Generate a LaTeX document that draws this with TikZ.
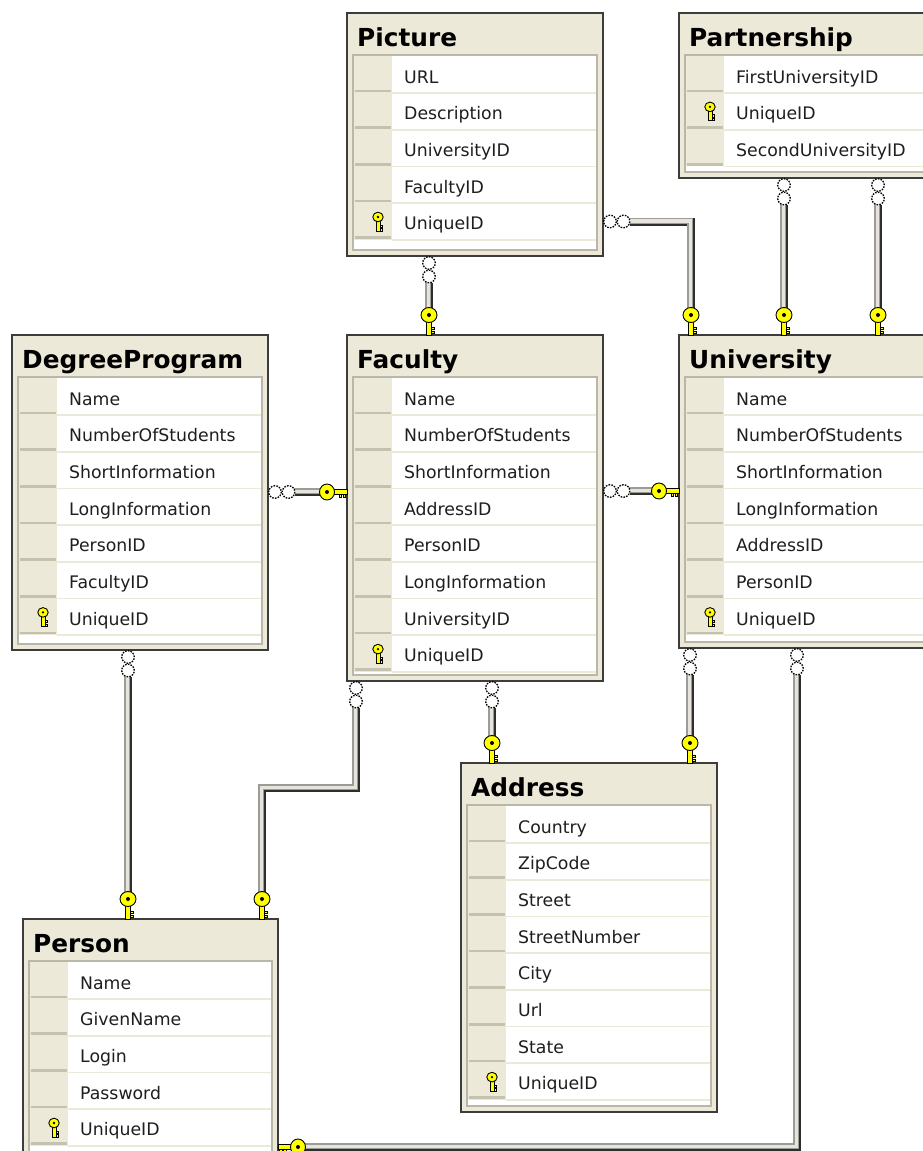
\documentclass[tikz,border=0pt]{standalone}
\usepackage{fontspec}
\setmainfont{DejaVu Sans}
\definecolor{framebg}{HTML}{ECE9D8}
\definecolor{framedark}{HTML}{3C3C3C}
\definecolor{panelline}{HTML}{BAB7A8}
\definecolor{graybar}{HTML}{C4C1AF}
\definecolor{rowline}{HTML}{ECE9D8}
\definecolor{keyyellow}{HTML}{FFFF00}
\definecolor{tubedark}{HTML}{2E2E2E}
\definecolor{tubemid}{HTML}{9C9C96}
\definecolor{tubelight}{HTML}{E6E4DC}
\definecolor{fieldcol}{HTML}{1E1E1E}
\tikzset{
  tableframe/.style={draw=framedark, fill=framebg, line width=2pt, rectangle, inner sep=0pt, outer sep=0pt},
  titletext/.style={font=\bfseries\fontsize{24.8}{28}\selectfont, inner sep=0pt, text=black},
  fieldtext/.style={font=\fontsize{17.3}{20}\selectfont, inner sep=0pt, text=fieldcol},
  panel/.style={fill=white, draw=panelline, line width=1.2pt},
  rowsep/.style={draw=rowline, line width=1.6pt},
  tubeA/.style={draw=tubedark, line width=8pt, line join=miter},
  tubeB/.style={draw=tubemid, line width=6pt, line join=miter},
  tubeC/.style={draw=tubelight, line width=3.6pt, line join=miter},
  keypart/.style={fill=keyyellow, draw=black, line width=0.9pt},
  manycirc/.style={fill=white, draw=black, line width=1.3pt, dash pattern=on 1.6pt off 1.2pt},
  many/.pic={
    \filldraw[manycirc] (0,7) circle [radius=6.3pt];
    \filldraw[manycirc] (0,20.5) circle [radius=6.3pt];
  },
  onekey/.pic={
    \filldraw[keypart] (-2.4,-14) rectangle (2.4,0);
    \filldraw[keypart] (2.4,-8) rectangle (5.5,-5.6);
    \filldraw[keypart] (2.4,-4) rectangle (5,-1.6);
    \filldraw[keypart] (0,-20) ellipse [x radius=8pt, y radius=7.5pt];
    \fill[black] (0,-20) circle [radius=2pt];
  },
  smallkey/.pic={
    \filldraw[keypart] (-2,-1) rectangle (2,9.5);
    \filldraw[keypart] (2,3.5) rectangle (4.6,5.6);
    \filldraw[keypart] (2,7.2) rectangle (4.2,9.5);
    \filldraw[keypart] (0,-4.5) ellipse [x radius=5.2pt, y radius=4.8pt];
    \fill[black] (0,-4.5) circle [radius=1.3pt];
  },
}
\newcommand{\dbtable}[7]{%
  \node[tableframe, minimum width=#4pt, minimum height={(#5-#3)*1pt}, anchor=north west] (#1) at (#2,#3) {};
  \node[titletext, anchor=base west] (#1-title) at ({#2+10},{#3+33.5}) {#6};
  \filldraw[panel] ({#2+6},{#3+42}) rectangle ({#2+#4-6},{#5-6});
  \foreach \fld/\iskey [count=\i from 0] in {#7} {
    \pgfmathsetmacro\rb{#3+43.3+(\i+1)*36.7}
    \fill[framebg] ({#2+7},{\rb-36.7}) rectangle ({#2+45},\rb);
    \fill[graybar] ({#2+8},{\rb-3.5}) rectangle ({#2+44},{\rb-0.8});
    \draw[rowsep] ({#2+45},\rb) -- ({#2+#4-7},\rb);
    \node[fieldtext, anchor=base west] (#1-f\i) at ({#2+57},{\rb-10}) {\fld};
    \ifnum\iskey=1 \pic at ({#2+31},{\rb-18.3}) {smallkey};\fi
  }
}
\newcommand{\dbtube}[1]{%
  \draw[tubeA] #1;
  \draw[tubeB, transform canvas={xshift=-1pt,yshift=1pt}] #1;
  \draw[tubeC, transform canvas={xshift=-0.6pt,yshift=0.6pt}] #1;
}
\begin{document}
\begin{tikzpicture}[x=1pt,y=-1pt]
\useasboundingbox (0,0) rectangle (923,1151);
\clip (0,0) rectangle (923,1151);
\fill[white] (0,0) rectangle (923,1151);

\dbtable{picture}{347}{13}{256}{256}{Picture}{URL/0,Description/0,UniversityID/0,FacultyID/0,UniqueID/1}
\dbtable{partnership}{679}{13}{256}{178}{Partnership}{FirstUniversityID/0,UniqueID/1,SecondUniversityID/0}
\dbtable{degree}{12}{335}{256}{650}{DegreeProgram}{Name/0,NumberOfStudents/0,ShortInformation/0,LongInformation/0,PersonID/0,FacultyID/0,UniqueID/1}
\dbtable{faculty}{347}{335}{256}{681}{Faculty}{Name/0,NumberOfStudents/0,ShortInformation/0,AddressID/0,PersonID/0,LongInformation/0,UniversityID/0,UniqueID/1}
\dbtable{university}{679}{335}{256}{648}{University}{Name/0,NumberOfStudents/0,ShortInformation/0,LongInformation/0,AddressID/0,PersonID/0,UniqueID/1}
\dbtable{address}{461}{763}{256}{1112}{Address}{Country/0,ZipCode/0,Street/0,StreetNumber/0,City/0,Url/0,State/0,UniqueID/1}
\dbtable{person}{23}{919}{255}{1170}{Person}{Name/0,GivenName/0,Login/0,Password/0,UniqueID/1}

% Picture -> Faculty
\dbtube{([xshift=82pt,yshift=-27pt]picture.south west) -- ([xshift=82pt,yshift=21pt]faculty.north west)}
% Picture -> University
\dbtube{([xshift=27pt,yshift=-208.5pt]picture.north east) -| ([xshift=12pt,yshift=21pt]university.north west)}
% Partnership -> University (two)
\dbtube{([xshift=105pt,yshift=-27pt]partnership.south west) -- ([xshift=105pt,yshift=21pt]university.north west)}
\dbtube{([xshift=199pt,yshift=-27pt]partnership.south west) -- ([xshift=199pt,yshift=21pt]university.north west)}
% DegreeProgram -> Faculty
\dbtube{([xshift=27pt,yshift=-157pt]degree.north east) -- ([xshift=-21pt,yshift=-157pt]faculty.north west)}
% Faculty -> University
\dbtube{([xshift=27pt,yshift=-156pt]faculty.north east) -- ([xshift=-21pt,yshift=-156pt]university.north west)}
% DegreeProgram -> Person
\dbtube{([xshift=116pt,yshift=-27pt]degree.south west) -- ([xshift=105pt,yshift=21pt]person.north west)}
% Faculty -> Person
\dbtube{([xshift=9pt,yshift=-27pt]faculty.south west) |- ([xshift=239pt,yshift=131pt]person.north west) -- ([xshift=239pt,yshift=21pt]person.north west)}
% Faculty -> Address
\dbtube{([xshift=145pt,yshift=-27pt]faculty.south west) -- ([xshift=31pt,yshift=21pt]address.north west)}
% University -> Address
\dbtube{([xshift=11pt,yshift=-27pt]university.south west) -- ([xshift=229pt,yshift=21pt]address.north west)}
% University -> Person
\dbtube{([xshift=118pt,yshift=-27pt]university.south west) |- ([xshift=21pt,yshift=-228pt]person.north east)}

% many ends
\pic at ([xshift=82pt]picture.south west) {many};
\pic[rotate=90] at ([yshift=-208.5pt]picture.north east) {many};
\pic at ([xshift=105pt]partnership.south west) {many};
\pic at ([xshift=199pt]partnership.south west) {many};
\pic[rotate=90] at ([yshift=-157pt]degree.north east) {many};
\pic[rotate=90] at ([yshift=-156pt]faculty.north east) {many};
\pic at ([xshift=116pt]degree.south west) {many};
\pic at ([xshift=9pt]faculty.south west) {many};
\pic at ([xshift=145pt]faculty.south west) {many};
\pic at ([xshift=11pt]university.south west) {many};
\pic at ([xshift=118pt]university.south west) {many};

% one ends
\pic at ([xshift=82pt]faculty.north west) {onekey};
\pic at ([xshift=12pt]university.north west) {onekey};
\pic at ([xshift=105pt]university.north west) {onekey};
\pic at ([xshift=199pt]university.north west) {onekey};
\pic[rotate=90,xscale=-1] at ([yshift=-157pt]faculty.north west) {onekey};
\pic[rotate=90,xscale=-1] at ([yshift=-156pt]university.north west) {onekey};
\pic at ([xshift=105pt]person.north west) {onekey};
\pic at ([xshift=239pt]person.north west) {onekey};
\pic at ([xshift=31pt]address.north west) {onekey};
\pic at ([xshift=229pt]address.north west) {onekey};
\pic[rotate=-90] at ([yshift=-228pt]person.north east) {onekey};
\end{tikzpicture}
\end{document}
